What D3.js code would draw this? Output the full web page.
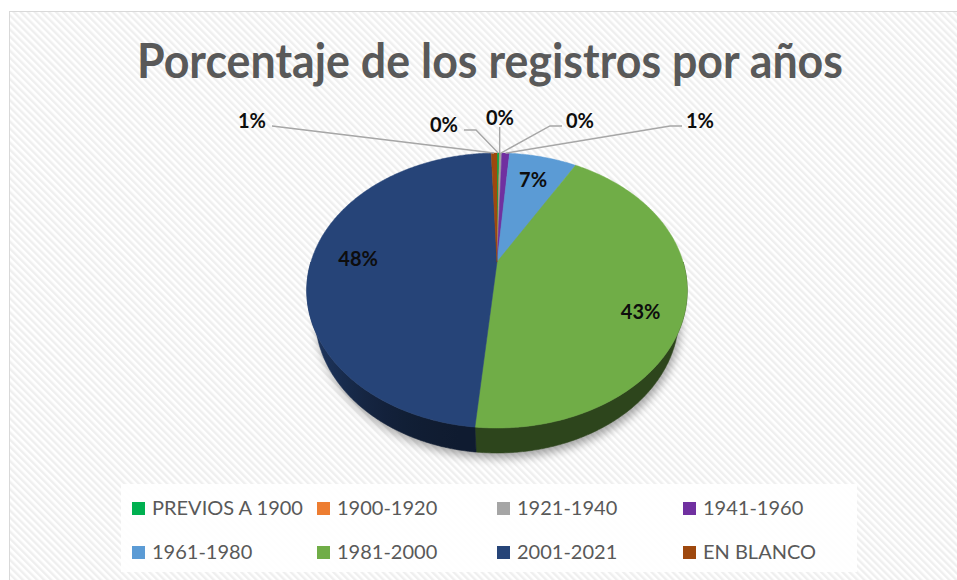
<!DOCTYPE html>
<html lang="es">
<head>
  <meta charset="UTF-8" />
  <title>Porcentaje de los registros por años</title>
  <style>
    html, body { margin: 0; padding: 0; background: #fff; }
    svg { display: block; }
  </style>
</head>
<body>
  <svg id="chart"></svg>

  <script src="https://d3js.org/d3.v7.min.js"></script>
  <script>
    // data (percent of records)
    const categories = ["PREVIOS A 1900", "1900-1920", "1921-1940", "1941-1960",
                        "1961-1980", "1981-2000", "2001-2021", "EN BLANCO"];
    const percents = [0.25, 0.05, 0.2, 0.8, 7.0, 43.2, 47.9, 0.6];
    const colors = ["#00B050", "#ED7D31", "#A5A5A5", "#7030A0",
                    "#5B9BD5", "#70AD47", "#264478", "#9E480E"];
    const titleText = "Porcentaje de los registros por años";

    // layout
    const W = 957, H = 580;
    const cx = 497, cy = 262;                 // projected pie centre
    const tilt = Math.PI / 4, dist = 3.411, focal = 634.8, thick = 0.215;
    // callout labels for the thin slices, offset from the pie centre (x centre, baseline)
    const callouts = {
      "EN BLANCO": [-245, -134],
      "PREVIOS A 1900": [-53, -130],
      "1900-1920": [3, -137],
      "1921-1940": [83, -134],
      "1941-1960": [203, -134]
    };
    const labelNudge = { "1981-2000": [4, 18] };
    const legendCols = [132, 317, 497, 683];
    const legendRows = [515, 559];

    const svg = d3.select("#chart").attr("width", W).attr("height", H);
    const defs = svg.append("defs");

    const pat = defs.append("pattern")
      .attr("id", "stripes")
      .attr("patternUnits", "userSpaceOnUse")
      .attr("width", 5).attr("height", 5)
      .attr("patternTransform", "rotate(-45)");
    pat.append("rect").attr("width", 5).attr("height", 5).attr("fill", "#ffffff");
    pat.append("rect").attr("width", 2.4).attr("height", 5).attr("fill", "#efefef");

    const blur = defs.append("filter").attr("id", "shadow")
      .attr("x", "-20%").attr("y", "-20%").attr("width", "140%").attr("height", "140%");
    blur.append("feGaussianBlur").attr("stdDeviation", 5);

    svg.append("rect")
      .attr("x", 9.5).attr("y", 11.5)
      .attr("width", W).attr("height", H)
      .attr("fill", "url(#stripes)")
      .attr("stroke", "#d9d9d9");

    // perspective projection of a point on the tilted disc
    function proj(a, r, h) {
      const X = r * Math.sin(a), Z = r * Math.cos(a);
      const yc = Z * Math.sin(tilt) - h * Math.cos(tilt);
      const zc = dist + Z * Math.cos(tilt) + h * Math.sin(tilt);
      return [cx + focal * X / zc, cy - focal * yc / zc];
    }
    function arcPoints(a0, a1, r, h) {
      const n = Math.max(2, Math.ceil((a1 - a0) / (Math.PI / 360)));
      return d3.range(n + 1).map(i => proj(a0 + (a1 - a0) * i / n, r, h));
    }

    const arcs = d3.pie().sort(null).value(d => d)(percents);
    const line = d3.line();

    // shadow under the pie
    svg.append("path")
      .attr("d", line(arcPoints(0, 2 * Math.PI, 1, thick)) + "Z")
      .attr("transform", "translate(2,5)")
      .attr("fill", "#000")
      .attr("opacity", 0.35)
      .attr("filter", "url(#shadow)");

    // side walls, front half only; shading lighter towards the left edge
    function wallColor(c, s) {
      const m = 0.4 + 0.42 * Math.pow(Math.max(0, -s), 3);
      const rgb = d3.rgb(c);
      return d3.rgb(rgb.r * m, rgb.g * m, rgb.b * m).formatHex();
    }
    const left = proj(3 * Math.PI / 2, 1, 0)[0], right = proj(Math.PI / 2, 1, 0)[0];
    colors.forEach((c, i) => {
      const g = defs.append("linearGradient")
        .attr("id", "wall" + i)
        .attr("gradientUnits", "userSpaceOnUse")
        .attr("x1", left).attr("x2", right).attr("y1", 0).attr("y2", 0);
      d3.range(0, 1.0001, 0.05).forEach(t => {
        g.append("stop").attr("offset", t).attr("stop-color", wallColor(c, t * 2 - 1));
      });
    });
    const walls = svg.append("g");
    arcs.forEach((d, i) => {
      const a0 = Math.max(d.startAngle, Math.PI / 2);
      const a1 = Math.min(d.endAngle, 3 * Math.PI / 2);
      if (a0 >= a1) return;
      const pts = arcPoints(a0, a1, 1, 0).concat(arcPoints(a0, a1, 1, thick).reverse());
      walls.append("path")
        .attr("d", line(pts) + "Z")
        .attr("fill", `url(#wall${i})`)
        .attr("stroke", `url(#wall${i})`)
        .attr("stroke-width", 0.6);
    });

    // top faces
    svg.append("g").selectAll("path")
      .data(arcs)
      .join("path")
      .attr("d", d => line([[cx, cy]].concat(arcPoints(d.startAngle, d.endAngle, 1, 0))) + "Z")
      .attr("fill", (d, i) => colors[i])
      .attr("stroke", (d, i) => colors[i])
      .attr("stroke-width", 0.5)
      .attr("stroke-linejoin", "round");

    const fmt = v => Math.round(v) + "%";
    const labels = svg.append("g")
      .attr("font-family", "Lato, 'Open Sans', sans-serif")
      .attr("font-weight", "bold")
      .attr("font-size", 20)
      .attr("fill", "#0d0d0d");
    const leaders = svg.append("g")
      .attr("fill", "none")
      .attr("stroke", "#a6a6a6")
      .attr("stroke-width", 1.4);

    arcs.forEach((d, i) => {
      const name = categories[i];
      const mid = (d.startAngle + d.endAngle) / 2;
      if (callouts[name]) {
        const [ox, oy] = callouts[name];
        const tx = cx + ox, ty = cy + oy;
        const t = labels.append("text")
          .attr("x", tx).attr("y", ty)
          .attr("text-anchor", "middle")
          .text(fmt(percents[i]));
        const half = t.node().getComputedTextLength() / 2;
        const anchor = proj(mid, 1, 0);
        let pts;
        if (Math.abs(tx - anchor[0]) < 10) {
          pts = [[anchor[0], ty + 2], anchor];
        } else if (tx < anchor[0]) {
          const x0 = tx + half + 6;
          pts = [[x0, ty - 2], [x0 + 12, ty - 2], anchor];
          if (anchor[0] - x0 > 100) pts = [[x0, ty - 2], anchor];
        } else {
          const x0 = tx - half - 4;
          pts = [[x0, ty - 2], [x0 - 12, ty - 2], anchor];
        }
        leaders.append("path").attr("d", line(pts));
      } else {
        const p = proj(mid, 0.75, 0);
        const nudge = labelNudge[name] || [0, 0];
        labels.append("text")
          .attr("x", p[0] + nudge[0]).attr("y", p[1] + nudge[1])
          .attr("dy", "0.36em")
          .attr("text-anchor", "middle")
          .text(fmt(percents[i]));
      }
    });

    // legend
    svg.append("rect")
      .attr("x", 121).attr("y", 484)
      .attr("width", 736).attr("height", 88)
      .attr("fill", "#fff")
      .attr("opacity", 0.9);

    const legend = svg.append("g")
      .attr("font-family", "Lato, 'Open Sans', sans-serif")
      .attr("font-size", 20)
      .attr("fill", "#595959");
    categories.forEach((c, i) => {
      const x = legendCols[i % 4], y = legendRows[Math.floor(i / 4)];
      legend.append("rect")
        .attr("x", x).attr("y", y - 13)
        .attr("width", 13).attr("height", 13)
        .attr("fill", colors[i]);
      legend.append("text")
        .attr("x", x + 20).attr("y", y)
        .text(c);
    });

    // title
    svg.append("text")
      .attr("x", 490).attr("y", 78)
      .attr("text-anchor", "middle")
      .attr("font-family", "Lato, 'Open Sans', sans-serif")
      .attr("font-weight", "bold")
      .attr("font-size", 47)
      .attr("fill", "#595959")
      .attr("textLength", 706)
      .attr("lengthAdjust", "spacingAndGlyphs")
      .text(titleText);
  </script>
</body>
</html>
